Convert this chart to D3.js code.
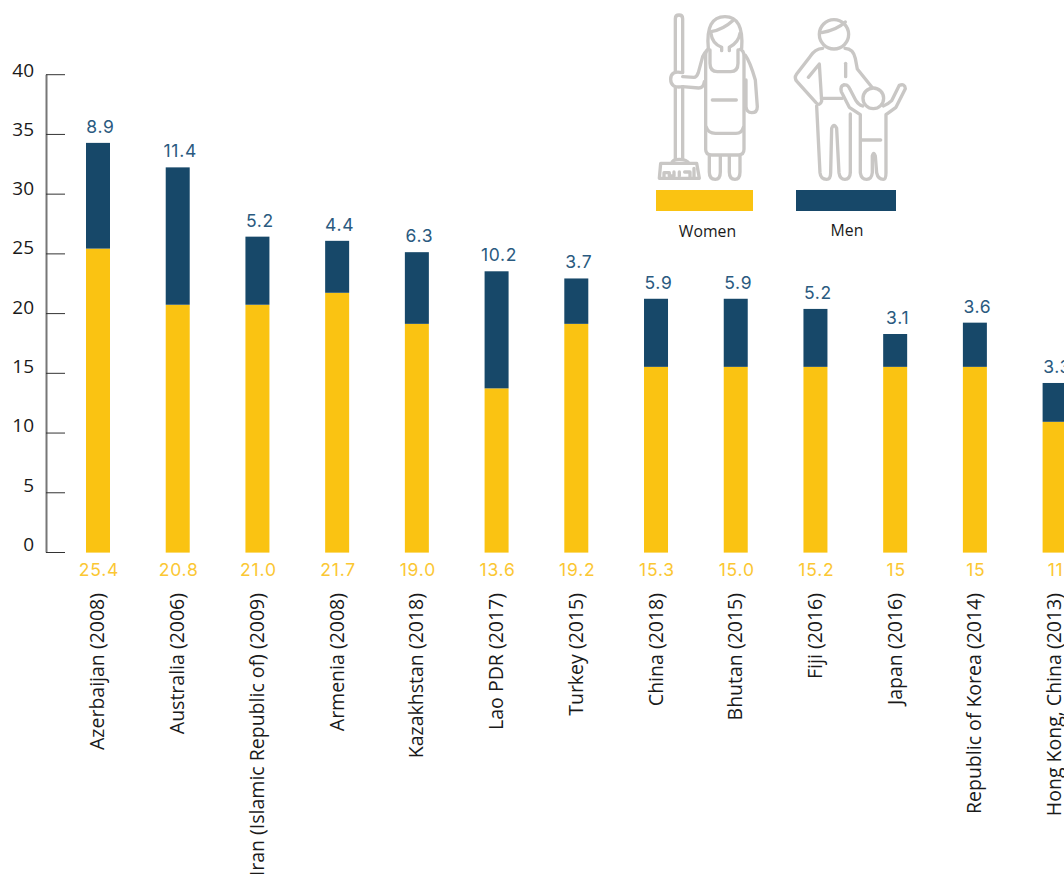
<!DOCTYPE html>
<html><head><meta charset="utf-8">
<script src="https://cdn.jsdelivr.net/npm/d3@7/dist/d3.min.js"></script>
<style>html,body{margin:0;padding:0;background:#fff;overflow:hidden}svg{display:block}</style>
</head><body><svg id="chart" width="1064" height="874"></svg>
<script>
const categories = ["Azerbaijan (2008)","Australia (2006)","Iran (Islamic Republic of) (2009)","Armenia (2008)","Kazakhstan (2018)","Lao PDR (2017)","Turkey (2015)","China (2018)","Bhutan (2015)","Fiji (2016)","Japan (2016)","Republic of Korea (2014)","Hong Kong, China (2013)"];
// bar lengths as drawn in the picture
const womenBars = [25.4,20.7,20.7,21.7,19.1,13.7,19.1,15.5,15.5,15.5,15.5,15.5,10.9];
const menBars = [8.85,11.5,5.7,4.35,6.0,9.8,3.8,5.7,5.7,4.85,2.75,3.7,3.25];
// printed value labels
const womenLabels = ["25.4","20.8","21.0","21.7","19.0","13.6","19.2","15.3","15.0","15.2","15","15","11"];
const menLabels = ["8.9","11.4","5.2","4.4","6.3","10.2","3.7","5.9","5.9","5.2","3.1","3.6","3.3"];
const yTicks = [0,5,10,15,20,25,30,35,40];
const legendNames = ["Women","Men"];

const YELLOW="#FAC312", NAVY="#174869";
const svg=d3.select("#chart");
const sans="'Open Sans',sans-serif", num="Inter,sans-serif";

const x=d3.scaleBand().domain(categories).range([86,1066.6]).paddingInner(0.699).paddingOuter(0);
const y=d3.scaleLinear().domain([0,40]).range([552,74.2]);
const tickLabelY=d3.scaleLinear().domain([0,40]).range([550.5,76]);

const axis=svg.append("g").attr("transform","translate(46,0)")
  .call(d3.axisLeft(y).tickValues(yTicks).tickSize(-19).tickSizeOuter(0));
axis.select(".domain").attr("stroke","#777").attr("stroke-width",2);
axis.selectAll(".tick line").attr("stroke","#333").attr("stroke-width",1);
axis.selectAll(".tick text").attr("x",-12).attr("dy",0)
  .attr("transform",d=>`translate(0,${tickLabelY(d)-y(d)})`)
  .attr("font-family",sans).attr("font-size",19).attr("fill","#1a1a1a");

const rows=categories.map((c,i)=>({c,w:womenBars[i],m:menBars[i],wl:womenLabels[i],ml:menLabels[i]}));
const g=svg.append("g").selectAll("g").data(rows).join("g");
g.append("rect").attr("x",d=>x(d.c)).attr("width",x.bandwidth())
  .attr("y",d=>y(d.w)).attr("height",d=>y(0)-y(d.w)+0.6).attr("fill",YELLOW);
g.append("rect").attr("x",d=>x(d.c)).attr("width",x.bandwidth())
  .attr("y",d=>y(d.w+d.m)).attr("height",d=>y(d.w)-y(d.w+d.m)).attr("fill",NAVY);
g.append("text").attr("x",d=>x(d.c)+x.bandwidth()/2+2.5).attr("y",d=>y(d.w+d.m)-10)
  .attr("text-anchor","middle").attr("font-family",num).attr("font-size",17.5).attr("letter-spacing",0.7).attr("fill","#2a5a80").text(d=>d.ml);
g.append("text").attr("x",d=>x(d.c)+x.bandwidth()/2+1).attr("y",576)
  .attr("text-anchor","middle").attr("font-family",num).attr("font-size",17.5).attr("letter-spacing",0.8).attr("fill","#FBC733").text(d=>d.wl);
g.append("text").attr("transform",d=>`translate(${x(d.c)+x.bandwidth()/2+6.5},593) rotate(-90)`)
  .attr("text-anchor","end").attr("font-family",sans).attr("font-size",19.5).attr("fill","#1a1a1a").text(d=>d.c);

// legend
const legendBoxes=[{x:656,w:97,c:YELLOW,tx:707.5,ty:236.5},{x:796,w:100,c:NAVY,tx:847,ty:235.5}];
const lg=svg.append("g").selectAll("g").data(legendBoxes).join("g");
lg.append("rect").attr("x",d=>d.x).attr("y",190).attr("width",d=>d.w).attr("height",21).attr("fill",d=>d.c);
lg.append("text").attr("x",d=>d.tx).attr("y",d=>d.ty).attr("text-anchor","middle")
  .attr("font-family",sans).attr("font-size",15.8).attr("fill","#1a1a1a").text((d,i)=>legendNames[i]);

// pictograms
const icon=svg.append("g").attr("transform","translate(640,0) scale(0.3333)")
  .attr("fill","none").attr("stroke","#c9c7c5").attr("stroke-width",10)
  .attr("stroke-linecap","round").attr("stroke-linejoin","round");
const iconPaths=[
 // woman: mop
 "M106 56 Q106 45 117 45 Q128 45 128 56 V216 M106 216 V56 M106 262 V478 M128 262 V478",
 "M95 490 Q97 478 118 478 Q140 478 147 490",
 "M62 490 H170 L178 535 H58 Z",
 "M72 535 V518 H88 V528 H102 V516 M118 516 V528 M134 516 H150 V535 M162 505 V535",
 // hand and arm
 "M128 218 Q92 210 92 238 Q92 266 128 260",
 "M128 230 L162 232 Q170 232 175 218 L188 170 Q192 160 202 150",
 "M128 260 L176 264 Q190 264 193 245",
 // hair, face
 "M205 145 Q196 50 255 50 Q312 50 305 145",
 "M213 95 Q250 88 278 62",
 "M213 100 Q216 130 245 142 V152 M300 100 Q296 128 268 142 V152",
 // dress and apron
 "M205 148 Q197 150 197 170 V448 Q197 465 215 465 H295 Q312 465 312 448 V170 Q312 150 300 148",
 "M210 150 V190 Q210 215 232 215 H272 Q294 215 294 190 V150",
 "M217 300 H289",
 "M199 382 Q205 400 226 400 H288 Q306 400 310 382",
 "M208 468 V516 Q208 538 226 538 Q241 538 241 516 V468",
 "M268 468 V516 Q268 538 285 538 Q300 538 300 516 V468",
 "M316 166 Q330 185 346 240 L352 320 Q352 338 335 338 Q320 338 318 320 V240",
 // man
 "M548 145 Q525 146 510 170 L470 222 Q461 234 472 246 L528 308 Q540 320 545 303 L538 192 L505 232",
 "M615 145 Q640 146 646 175 L652 207 L696 262",
 "M617 190 V230",
 "M545 295 H607",
 "M530 318 L540 518 Q542 538 560 538 Q572 538 572 518 L575 385 Q582 368 590 385 L597 518 Q600 538 615 538 Q630 538 631 518 V342",
 "M612 255 Q600 258 604 275 L628 322 L661 344 V518 Q664 538 680 538 Q695 538 697 518 L697 468 Q701 452 706 468 L710 518 Q714 538 730 538 Q738 538 738 518 V344 L768 322 L796 266 Q795 250 778 256 L755 302 Q745 312 730 318",
 "M612 255 Q624 252 630 268 L648 302 Q655 314 668 318",
 "M664 420 H722"
];
icon.selectAll("path").data(iconPaths).join("path").attr("d",d=>d);
const iconCircles=[[582,103,44],[700,295,31]];
icon.selectAll("circle").data(iconCircles).join("circle")
  .attr("cx",d=>d[0]).attr("cy",d=>d[1]).attr("r",d=>d[2]);
icon.append("path").attr("d","M545 98 Q590 90 616 66");
</script></body></html>
